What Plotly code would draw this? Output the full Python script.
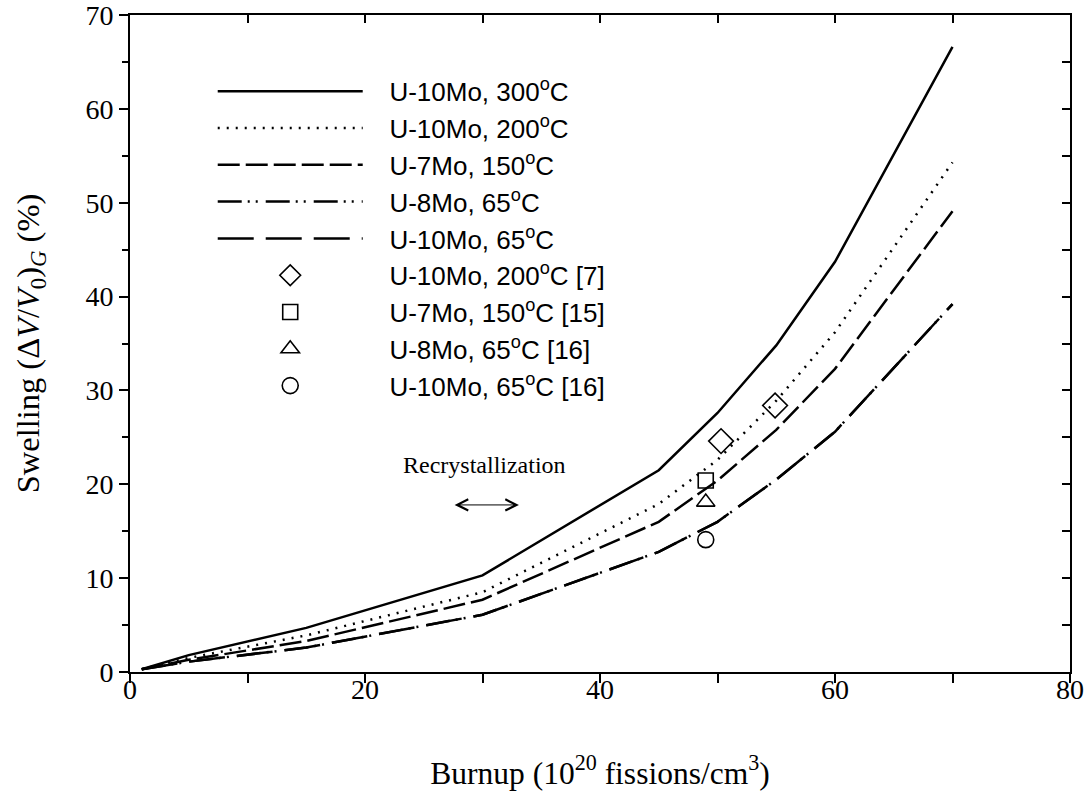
import plotly.graph_objects as go

# ---- data ----
burnup = [1, 5, 15, 30, 45, 50, 55, 60, 70]
u10mo_300 = [0.3, 1.8, 4.7, 10.3, 21.5, 27.6, 34.8, 43.7, 66.6]
u10mo_200 = [0.3, 1.5, 3.9, 8.5, 17.9, 22.6, 28.9, 36.2, 54.3]
u7mo_150 = [0.3, 1.3, 3.3, 7.7, 16.0, 20.4, 25.8, 32.3, 49.1]
u8mo_65 = [0.3, 1.1, 2.6, 6.1, 12.8, 16.0, 20.5, 25.6, 39.2]
u10mo_65 = [0.3, 1.1, 2.6, 6.1, 12.8, 16.0, 20.5, 25.6, 39.2]

exp_u10mo_200_x = [50.3, 54.9]
exp_u10mo_200_y = [24.6, 28.4]
exp_u7mo_150_x = [49.0]
exp_u7mo_150_y = [20.4]
exp_u8mo_65_x = [49.0]
exp_u8mo_65_y = [18.1]
exp_u10mo_65_x = [49.0]
exp_u10mo_65_y = [14.1]

PAD = "\u00a0\u00a0\u00a0"
line_names = ["U-10Mo, 300<sup>o</sup>C", "U-10Mo, 200<sup>o</sup>C", "U-7Mo, 150<sup>o</sup>C",
              "U-8Mo, 65<sup>o</sup>C", "U-10Mo, 65<sup>o</sup>C"]
marker_names = ["U-10Mo, 200<sup>o</sup>C [7]", "U-7Mo, 150<sup>o</sup>C [15]",
                "U-8Mo, 65<sup>o</sup>C [16]", "U-10Mo, 65<sup>o</sup>C [16]"]

fig = go.Figure()

line_series = [u10mo_300, u10mo_200, u7mo_150, u8mo_65, u10mo_65]
dashes = ["solid", "2px,7px", "22px,6px", "24px,6px,2px,6px,2px,8px", "36px,12px"]
for i, (ys, dsh) in enumerate(zip(line_series, dashes)):
    fig.add_trace(go.Scatter(x=burnup, y=ys, mode="lines", name=PAD + line_names[i],
                             legendgroup=f"g{i}",
                             line=dict(color="black", width=2.5, dash=dsh)))

exp_sets = [(exp_u10mo_200_x, exp_u10mo_200_y, "diamond-open", 19),
            (exp_u7mo_150_x, exp_u7mo_150_y, "square-open", 15),
            (exp_u8mo_65_x, exp_u8mo_65_y, "triangle-up-open", 16),
            (exp_u10mo_65_x, exp_u10mo_65_y, "circle-open", 16)]
for j, (xs, ys, sym, sz) in enumerate(exp_sets):
    fig.add_trace(go.Scatter(x=xs, y=ys, mode="markers", name=PAD + marker_names[j],
                             legendgroup=f"m{j}",
                             marker=dict(symbol=sym, size=sz, color="black",
                                         line=dict(color="black", width=1.6))))

# invisible trace for mirrored (top/right) axes with inward ticks
fig.add_trace(go.Scatter(x=[None], y=[None], xaxis="x2", yaxis="y2",
                         showlegend=False, hoverinfo="skip"))

serif = "Liberation Serif"
fig.update_layout(
    width=1088, height=799,
    margin=dict(l=130, r=18, t=15, b=127, autoexpand=False),
    plot_bgcolor="white", paper_bgcolor="white",
    showlegend=True,
    legend=dict(x=0.088, y=0.9196, xanchor="left", yanchor="top",
                bgcolor="rgba(0,0,0,0)", borderwidth=0,
                font=dict(family="Liberation Sans", size=26, color="black"),
                itemwidth=145, tracegroupgap=6.6, traceorder="normal"),
    xaxis=dict(range=[0, 80], dtick=20, tick0=0, ticks="outside", ticklen=9, tickwidth=1.5,
               tickcolor="black", showline=True, linecolor="black", linewidth=2,
               showgrid=False, zeroline=False, automargin=False,
               ticklabelstandoff=-18, ticklabeloverflow="allow",
               minor=dict(dtick=10, ticks="outside", ticklen=9, tickwidth=1.5, tickcolor="black",
                          showgrid=False),
               tickfont=dict(family=serif, size=28, color="black"),
               title=dict(text="Burnup (10<sup>20</sup> fissions/cm<sup>3</sup>)",
                          font=dict(family=serif, size=31.5, color="black"), standoff=58)),
    yaxis=dict(range=[0, 70], dtick=10, tick0=0, ticks="outside", ticklen=9, tickwidth=1.5,
               tickcolor="black", showline=True, linecolor="black", linewidth=2,
               showgrid=False, zeroline=False, automargin=False, ticklabeloverflow="allow",
               minor=dict(dtick=5, ticks="outside", ticklen=6, tickwidth=1.5, tickcolor="black",
                          showgrid=False),
               tickfont=dict(family=serif, size=28, color="black"),
               title=dict(text="Swelling (Δ<i>V</i>/<i>V</i><sub>0</sub>)<sub><i>G</i></sub> (%)",
                          font=dict(family=serif, size=32.5, color="black"), standoff=36)),
    xaxis2=dict(range=[0, 80], overlaying="x", side="top", dtick=10, ticks="inside",
                ticklen=8, tickwidth=1.5, tickcolor="black", showticklabels=False, automargin=False,
                showline=True, linecolor="black", linewidth=2, showgrid=False, zeroline=False),
    yaxis2=dict(range=[0, 70], overlaying="y", side="right", dtick=5, ticks="inside",
                ticklen=8, tickwidth=1.5, tickcolor="black", showticklabels=False, automargin=False,
                showline=True, linecolor="black", linewidth=2, showgrid=False, zeroline=False),
    annotations=[
        dict(x=30.2, y=22.05, xref="x", yref="y", text="Recrystallization", showarrow=False,
             font=dict(family=serif, size=24, color="black")),
        dict(x=33.1, y=17.8, ax=27.5, ay=17.8, xref="x", yref="y", axref="x", ayref="y",
             text="", showarrow=True, arrowhead=5, startarrowhead=5, arrowside="end+start",
             arrowsize=2.2, arrowwidth=1, arrowcolor="black"),
    ],
)

fig.write_html("out.html")
